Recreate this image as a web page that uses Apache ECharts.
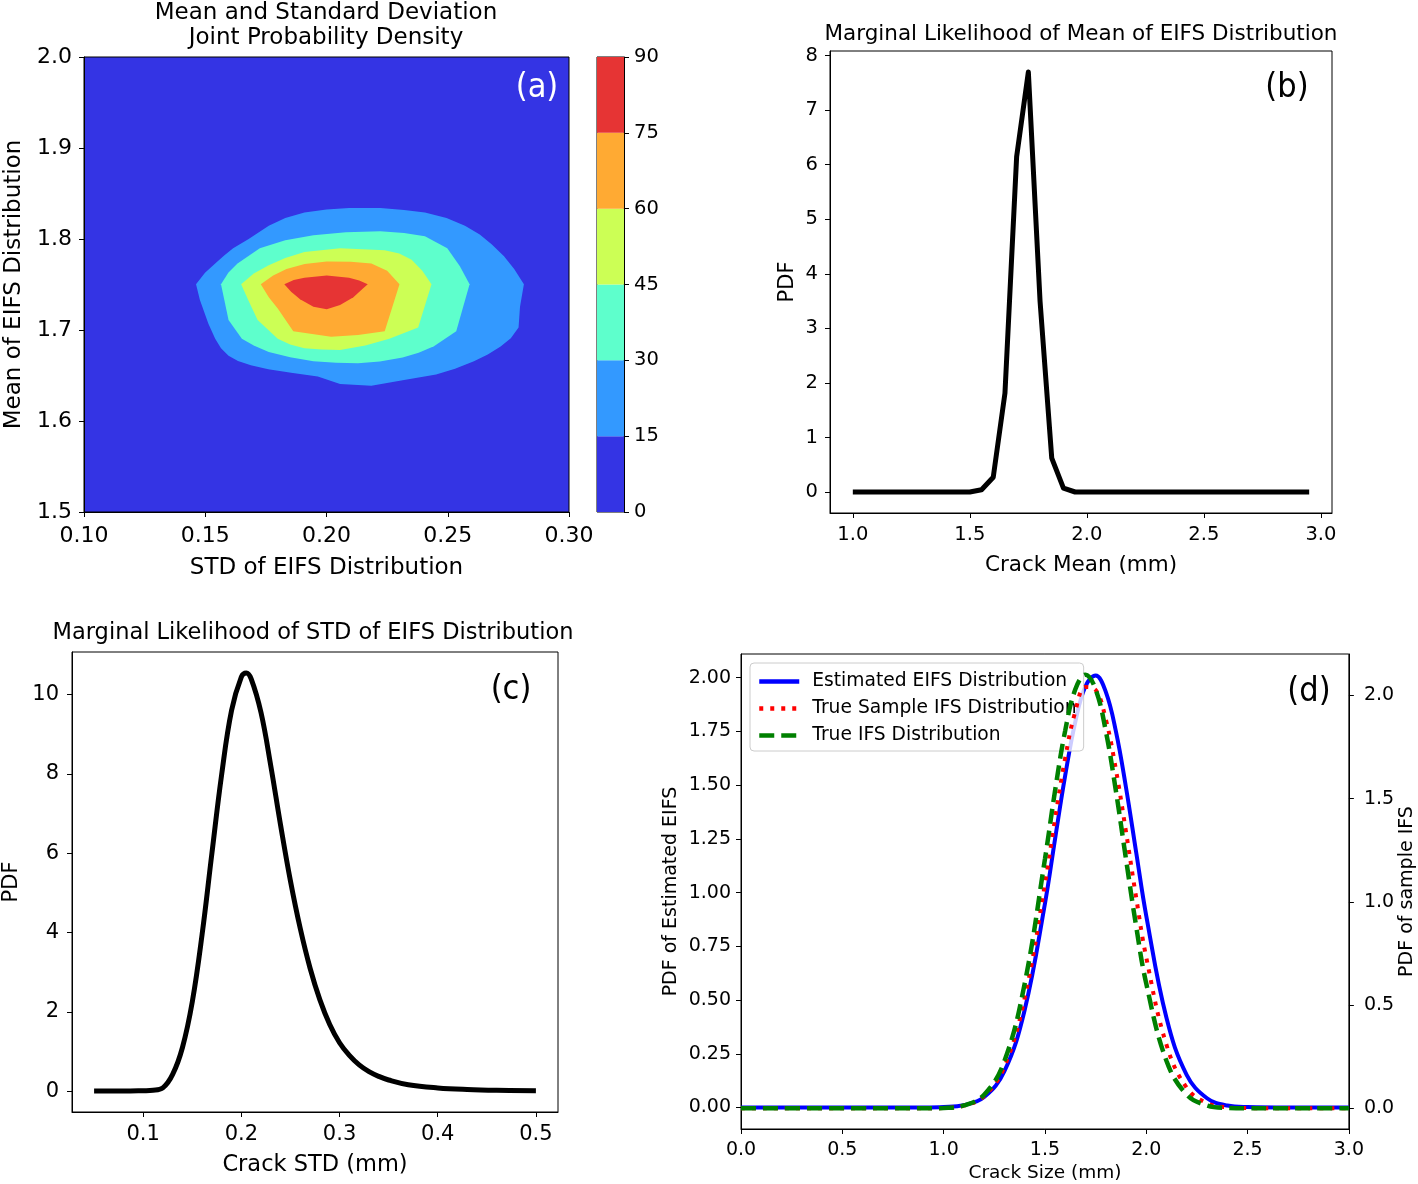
<!DOCTYPE html>
<html>
<head>
<meta charset="utf-8">
<script src="https://cdn.jsdelivr.net/npm/echarts@6/dist/echarts.min.js"></script>
<style>html,body{margin:0;padding:0;background:#fff;}#chart{width:1418px;height:1184px;}</style>
</head>
<body>
<div id="chart"></div>
<script>
// ---------- Panel (a): contour bands (STD, Mean) ----------
const contourLevels = [0, 15, 30, 45, 60, 75, 90];
const contourColors = ['#3434e4', '#3399ff', '#5effcc', '#ccff55', '#ffaa33', '#e63434'];
const contour15 = [[0.1462,1.7502],[0.1499,1.7630],[0.1541,1.7732],[0.1578,1.7820],[0.1615,1.7897],[0.1679,1.8001],[0.1762,1.8146],[0.1830,1.8230],[0.1909,1.829],[0.2000,1.8325],[0.2093,1.834],[0.2222,1.834],[0.2320,1.8320],[0.2406,1.829],[0.2495,1.8230],[0.2571,1.8146],[0.2632,1.8050],[0.2682,1.7939],[0.2732,1.7810],[0.2774,1.767],[0.2814,1.7504],[0.2798,1.7256],[0.2792,1.7028],[0.2760,1.6910],[0.2718,1.682],[0.2665,1.6730],[0.2608,1.6656],[0.2530,1.6575],[0.2452,1.651],[0.2314,1.6449],[0.2185,1.6387],[0.2056,1.6407],[0.1964,1.649],[0.1854,1.6531],[0.1760,1.6570],[0.1688,1.6614],[0.1635,1.6660],[0.1596,1.6718],[0.1565,1.6800],[0.1541,1.6904],[0.1513,1.707],[0.1478,1.733]];
const contour30 = [[0.1565,1.7504],[0.1595,1.7630],[0.1633,1.7732],[0.1725,1.7897],[0.1830,1.7985],[0.1946,1.8042],[0.2080,1.8075],[0.2222,1.8084],[0.2320,1.8065],[0.2406,1.803],[0.2498,1.7897],[0.2550,1.7700],[0.259,1.7504],[0.2535,1.6987],[0.2443,1.6821],[0.2380,1.6750],[0.2314,1.6697],[0.2220,1.6655],[0.213,1.6635],[0.2040,1.6640],[0.1946,1.6656],[0.1850,1.6700],[0.1762,1.6759],[0.1700,1.6830],[0.1651,1.6904],[0.1596,1.7111]];
const contour45 = [[0.1648,1.7504],[0.1700,1.7620],[0.1762,1.7711],[0.1830,1.7790],[0.1909,1.7856],[0.2056,1.7897],[0.224,1.7877],[0.2300,1.7840],[0.2351,1.7773],[0.2395,1.7650],[0.2433,1.7504],[0.2378,1.7028],[0.2259,1.6904],[0.2160,1.6830],[0.2056,1.678],[0.1980,1.6785],[0.1909,1.68],[0.1850,1.6840],[0.1799,1.6904],[0.1716,1.7111],[0.1679,1.7318]];
const contour60 = [[0.1729,1.7504],[0.1780,1.7600],[0.1835,1.767],[0.1910,1.7725],[0.2001,1.7752],[0.2100,1.7750],[0.2185,1.7732],[0.2250,1.7650],[0.2301,1.7504],[0.224,1.6987],[0.213,1.6945],[0.2019,1.6925],[0.1863,1.6987],[0.1799,1.7235],[0.1762,1.7359]];
const contour75 = [[0.1826,1.7504],[0.1865,1.7550],[0.1909,1.7574],[0.2001,1.7599],[0.2093,1.7574],[0.2135,1.7545],[0.217,1.7504],[0.2140,1.7430],[0.2111,1.7359],[0.2056,1.7276],[0.2001,1.7227],[0.1946,1.7256],[0.1891,1.7339],[0.1854,1.7421]];
const contours = [contour15, contour30, contour45, contour60, contour75];

// ---------- Panel (b): marginal likelihood of mean ----------
const bX = [1.00,1.05,1.10,1.15,1.20,1.25,1.30,1.35,1.40,1.45,1.50,1.55,1.60,1.65,1.70,1.75,1.80,1.85,1.90,1.95,2.00,2.05,2.10,2.15,2.20,2.25,2.30,2.35,2.40,2.45,2.50,2.55,2.60,2.65,2.70,2.75,2.80,2.85,2.90,2.95];
const bY = [0,0,0,0,0,0,0,0,0,0,0,0.04,0.27,1.81,6.15,7.70,3.50,0.62,0.07,0,0,0,0,0,0,0,0,0,0,0,0,0,0,0,0,0,0,0,0,0];

// ---------- Panel (c): marginal likelihood of STD ----------
const cX = [0.05,0.08,0.10,0.11,0.12,0.13,0.14,0.15,0.16,0.17,0.18,0.19,0.20,0.205,0.21,0.22,0.23,0.24,0.25,0.26,0.27,0.28,0.29,0.30,0.31,0.32,0.33,0.34,0.35,0.37,0.40,0.43,0.46,0.50];
const cY = [0,0,0.01,0.02,0.08,0.42,1.1,2.25,3.95,6.0,8.0,9.6,10.45,10.55,10.4,9.55,8.2,6.7,5.3,4.1,3.1,2.3,1.68,1.22,0.9,0.66,0.49,0.37,0.28,0.16,0.08,0.04,0.02,0.01];

// ---------- Panel (d): crack size distributions ----------
const dX = [0.0,0.5,0.8,0.9,1.0,1.1,1.2,1.3,1.4,1.5,1.55,1.6,1.65,1.7,1.75,1.8,1.85,1.9,1.95,2.0,2.1,2.2,2.3,2.4,2.5,2.7,3.0];
const estimatedEIFS = [0,0,0,0,0.002,0.011,0.049,0.169,0.454,0.949,1.25,1.545,1.795,1.96,2.01,1.935,1.751,1.489,1.189,0.892,0.416,0.151,0.043,0.009,0.002,0,0];
const trueSampleIFS = [0,0,0,0,0.002,0.013,0.059,0.202,0.534,1.085,1.402,1.697,1.922,2.04,2.026,1.885,1.642,1.339,1.022,0.731,0.307,0.099,0.025,0.005,0.001,0,0];
const trueIFS = [0,0,0,0,0.002,0.014,0.066,0.229,0.604,1.207,1.538,1.829,2.029,2.10,2.029,1.829,1.538,1.207,0.883,0.604,0.229,0.066,0.014,0.002,0,0,0];

// ---------- tick labels ----------
const bXTicks = [1.0,1.5,2.0,2.5,3.0];
const bYTicks = [0,1,2,3,4,5,6,7,8];
const cXTicks = [0.1,0.2,0.3,0.4,0.5];
const cYTicks = [0,2,4,6,8,10];
const dYLeftTicks = [0,0.25,0.5,0.75,1.0,1.25,1.5,1.75,2.0];
const dYRightTicks = [0,0.5,1.0,1.5,2.0];

const zip = (xs, ys) => xs.map((x, i) => [x, ys[i]]);
const FONT = 'DejaVu Sans';

function axisBase(fs, nameFs, margin) {
  return {
    axisLine: {show: true, onZero: false, lineStyle: {color: '#000', width: 1}},
    axisTick: {show: true, inside: false, length: 5, lineStyle: {color: '#000', width: 1}},
    axisLabel: {color: '#000', fontFamily: FONT, fontSize: fs, margin: margin},
    splitLine: {show: false},
    nameTextStyle: {color: '#000', fontFamily: FONT, fontSize: nameFs},
    nameLocation: 'middle'
  };
}
function withCustom(base, vals, fmt) {
  base.axisTick.customValues = vals;
  base.axisLabel.customValues = vals;
  if (fmt) base.axisLabel.formatter = fmt;
  return base;
}
function withFmt(base, fmt) { base.axisLabel.formatter = fmt; return base; }

const chart = echarts.init(document.getElementById('chart'), null, {renderer: 'canvas'});

const grids = [
  {left: 84, top: 57, width: 485, height: 455, show: true, backgroundColor: contourColors[0], borderColor: '#000', borderWidth: 1},
  {left: 597, top: 57, width: 27, height: 455, show: true, borderColor: '#000', borderWidth: 1},
  {left: 830, top: 51, width: 502, height: 462, show: true, borderColor: '#000', borderWidth: 1},
  {left: 71, top: 652, width: 487, height: 460, show: true, borderColor: '#000', borderWidth: 1},
  {left: 741, top: 654, width: 611, height: 475, show: true, borderColor: '#000', borderWidth: 1}
];

const xAxes = [
  Object.assign(withFmt(axisBase(22, 23, 13), v => v.toFixed(2)), {gridIndex: 0, type: 'value', min: 0.1, max: 0.3, interval: 0.05, name: 'STD of EIFS Distribution', nameGap: 45}),
  {gridIndex: 1, type: 'category', data: ['cb'], show: false},
  Object.assign(withCustom(axisBase(19.5, 21.5, 12), bXTicks, v => v.toFixed(1)), {gridIndex: 2, type: 'value', min: 0.9025, max: 3.0475, name: 'Crack Mean (mm)', nameGap: 41}),
  Object.assign(withCustom(axisBase(21, 22.5, 12), cXTicks, v => v.toFixed(1)), {gridIndex: 3, type: 'value', min: 0.0275, max: 0.5225, name: 'Crack STD (mm)', nameGap: 42}),
  Object.assign(withFmt(axisBase(19, 18.5, 12), v => v.toFixed(1)), {gridIndex: 4, type: 'value', min: 0, max: 3, interval: 0.5, name: 'Crack Size (mm)', nameGap: 35})
];
const yAxes = [
  Object.assign(withFmt(axisBase(22, 23, 12), v => v.toFixed(1)), {gridIndex: 0, type: 'value', min: 1.5, max: 2.0, interval: 0.1, name: 'Mean of EIFS Distribution', nameGap: 58}),
  Object.assign(axisBase(19.5, 19, 10), {gridIndex: 1, type: 'value', position: 'right', min: 0, max: 90, interval: 15}),
  Object.assign(withCustom(axisBase(19.5, 21, 12), bYTicks, v => String(v)), {gridIndex: 2, type: 'value', min: -0.385, max: 8.085, name: 'PDF', nameGap: 32}),
  Object.assign(withCustom(axisBase(21, 21, 13), cYTicks, v => String(v)), {gridIndex: 3, type: 'value', min: -0.5275, max: 11.0775, name: 'PDF', nameGap: 50}),
  Object.assign(withCustom(axisBase(19, 19, 10), dYLeftTicks, v => v.toFixed(2)), {gridIndex: 4, type: 'value', min: -0.1, max: 2.11, name: 'PDF of Estimated EIFS', nameGap: 60}),
  Object.assign(withCustom(axisBase(19, 19, 15), dYRightTicks, v => v.toFixed(1)), {gridIndex: 4, type: 'value', position: 'right', min: -0.1, max: 2.2, name: 'PDF of sample IFS', nameGap: 46})
];

const series = [];
// contour bands
series.push({
  type: 'custom', xAxisIndex: 0, yAxisIndex: 0, silent: true, clip: true,
  data: contours.map((c, i) => [c[0][0], c[0][1], i]),
  encode: {x: 0, y: 1},
  renderItem: function (params, api) {
    const idx = api.value(2);
    const pts = contours[idx].map(p => api.coord(p));
    return {type: 'polygon', shape: {points: pts}, style: {fill: contourColors[idx + 1], stroke: null}};
  }
});
// colorbar
for (let i = 0; i < contourLevels.length - 1; i++) {
  series.push({type: 'bar', xAxisIndex: 1, yAxisIndex: 1, stack: 'cb', barWidth: '100%', silent: true,
    data: [contourLevels[i + 1] - contourLevels[i]], itemStyle: {color: contourColors[i]}});
}
series.push({type: 'line', xAxisIndex: 2, yAxisIndex: 2, data: zip(bX, bY), symbol: 'none', silent: true,
  lineStyle: {color: '#000', width: 5, join: 'round'}});
series.push({type: 'line', xAxisIndex: 3, yAxisIndex: 3, data: zip(cX, cY), symbol: 'none', smooth: 0.4, silent: true,
  lineStyle: {color: '#000', width: 5, join: 'round'}});
series.push({name: 'Estimated EIFS Distribution', type: 'line', xAxisIndex: 4, yAxisIndex: 4, data: zip(dX, estimatedEIFS), symbol: 'none', smooth: 0.4,
  lineStyle: {color: '#0000ff', width: 4}, itemStyle: {color: '#0000ff'}, z: 2});
series.push({name: 'True Sample IFS Distribution', type: 'line', xAxisIndex: 4, yAxisIndex: 5, data: zip(dX, trueSampleIFS), symbol: 'none', smooth: 0.4,
  lineStyle: {color: '#ff0000', width: 4, type: [4, 7]}, itemStyle: {color: '#ff0000'}, z: 5});
series.push({name: 'True IFS Distribution', type: 'line', xAxisIndex: 4, yAxisIndex: 5, data: zip(dX, trueIFS), symbol: 'none', smooth: 0.4,
  lineStyle: {color: '#008000', width: 4.5, type: [15, 7]}, itemStyle: {color: '#008000'}, z: 5});

function txt(text, x, y, size, opts) {
  return {type: 'text', x: x, y: y, silent: true, z: 10,
    style: Object.assign({text: text, fill: '#000', font: size + 'px "' + FONT + '"', align: 'center', verticalAlign: 'middle'}, opts || {})};
}
const LABEL_FONT = '"Liberation Sans Narrow","DejaVu Sans Condensed",sans-serif';
const graphics = [
  txt('Mean and Standard Deviation', 326, 13, 23),
  txt('Joint Probability Density', 326, 38, 23),
  txt('Marginal Likelihood of Mean of EIFS Distribution', 1081, 34, 21.5),
  txt('Marginal Likelihood of STD of EIFS Distribution', 313, 633, 22.5),
  txt('(a)', 537, 88, 0, {font: '34px ' + LABEL_FONT, fill: '#fff'}),
  txt('(b)', 1287, 88, 0, {font: '34px ' + LABEL_FONT}),
  txt('(c)', 511, 690, 0, {font: '34px ' + LABEL_FONT}),
  txt('(d)', 1309, 692, 0, {font: '34px ' + LABEL_FONT})
];

chart.setOption({
  animation: false,
  backgroundColor: '#fff',
  grid: grids,
  xAxis: xAxes,
  yAxis: yAxes,
  series: series,
  legend: {
    data: ['Estimated EIFS Distribution', 'True Sample IFS Distribution', 'True IFS Distribution'],
    orient: 'vertical', left: 750, top: 663, itemWidth: 40, itemHeight: 14, itemGap: 8,
    padding: [9, 7, 6, 7], backgroundColor: 'rgba(255,255,255,0.8)', borderColor: '#cccccc', borderWidth: 1, borderRadius: 4,
    itemStyle: {opacity: 0},
    lineStyle: {width: 4.5},
    textStyle: {fontFamily: FONT, fontSize: 18.7, color: '#000', padding: [0, 0, 0, 8]}, selectedMode: false, z: 4
  },
  graphic: graphics
});
</script>
</body>
</html>
